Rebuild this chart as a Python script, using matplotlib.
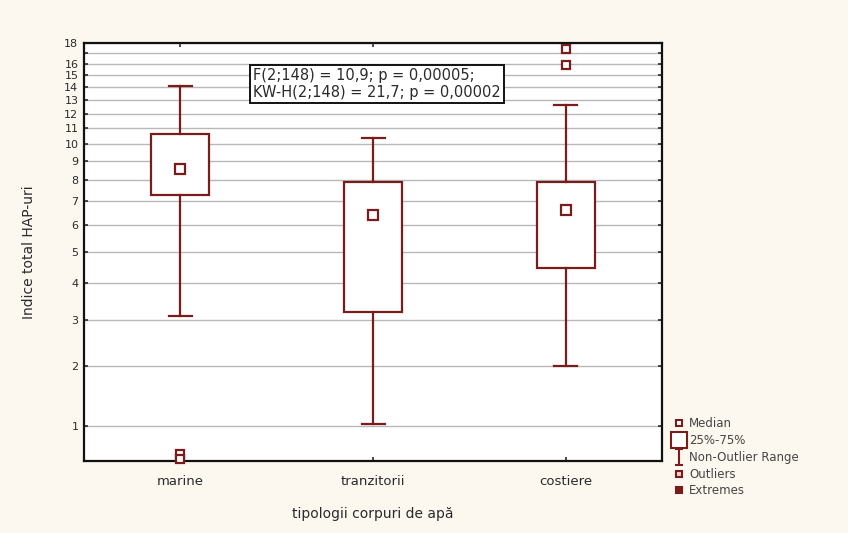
import numpy as np
import matplotlib
matplotlib.use('Agg')
import matplotlib.pyplot as plt
from matplotlib.lines import Line2D
from matplotlib.path import Path

# data
categories = ['marine', 'tranzitorii', 'costiere']
whisker_hi = [14.1, 10.4, 12.6]
q3 = [10.6, 7.9, 7.9]
median = [8.6, 6.4, 6.6]
q1 = [7.3, 3.2, 4.45]
whisker_lo = [3.1, 1.03, 2.0]
outliers = [[0.64, 0.57], [], [17.4, 15.9]]
ytick_vals = [1, 2, 3, 4, 5, 6, 7, 8, 9, 10, 11, 12, 13, 14, 15, 16, 17, 18]
ytick_labels = ['1', '2', '3', '4', '5', '6', '7', '8', '9', '10', '11', '12',
                '13', '14', '15', '16', '', '18']
stats_text = 'F(2;148) = 10,9; p = 0,00005;\nKW-H(2;148) = 21,7; p = 0,00002'

red = '#7a1c1c'
bg = '#fcf8ef'
txt = '#2a2a2a'
plt.rcParams['font.family'] = ['DejaVu Sans']

fig = plt.figure(figsize=(8.48, 5.33), dpi=100, facecolor=bg)
ax = fig.add_axes([0.099, 0.135, 0.682, 0.784])
ax.set_facecolor('white')

c = 1.75
ax.set_yscale('function', functions=(lambda v: np.log10(np.clip(v + c, 1e-6, None)),
                                     lambda v: 10 ** v - c))
ax.set_ylim(0.55, 18)
ax.set_xlim(-0.5, 2.5)

ax.set_yticks(ytick_vals)
ax.set_yticklabels(ytick_labels)
ax.yaxis.grid(True, color='#b8b8b8', linewidth=1)
ax.set_axisbelow(True)
ax.minorticks_off()

stats = []
for i in range(len(categories)):
    stats.append(dict(med=median[i], q1=q1[i], q3=q3[i], whislo=whisker_lo[i],
                      whishi=whisker_hi[i], fliers=[]))
ax.bxp(stats, positions=range(len(categories)), widths=0.3, capwidths=0.12,
       patch_artist=True, showfliers=False,
       boxprops=dict(facecolor='white', edgecolor=red, linewidth=1.6),
       whiskerprops=dict(color=red, linewidth=1.6),
       capprops=dict(color=red, linewidth=1.6),
       medianprops=dict(linewidth=0))
ax.plot(range(len(categories)), median, 's', ms=7, mfc='white', mec=red, mew=1.6,
        linestyle='none', zorder=4)
for i, vals in enumerate(outliers):
    ax.plot([i] * len(vals), vals, 's', ms=6, mfc='white', mec=red, mew=1.6,
            linestyle='none', zorder=4, clip_on=False)

ax.set_xticks(range(len(categories)))
ax.set_xticklabels(categories)
ax.tick_params(direction='in', length=3, width=1.2, top=True, right=True,
               labelsize=9.5, colors=txt, pad=10)
ax.tick_params(axis='y', labelsize=8, pad=4)
for s in ax.spines.values():
    s.set_linewidth(1.6)
    s.set_color('#111111')

ax.set_xlabel('tipologii corpuri de apă', fontsize=10, color=txt, labelpad=14)
ax.set_ylabel('Indice total HAP-uri', fontsize=10, color=txt)
ax.yaxis.set_label_coords(-0.083, 0.5)

ax.text(0.293, 0.94, stats_text, transform=ax.transAxes, fontsize=10.5,
        va='top', ha='left', linespacing=1.12, color=txt,
        bbox=dict(boxstyle='square,pad=0.22', facecolor='white',
                  edgecolor='#111111', linewidth=1.4), zorder=6)

whisk = Path([(-0.5, 1), (0.5, 1), (0, 1), (0, -1), (-0.5, -1), (0.5, -1)],
             [Path.MOVETO, Path.LINETO, Path.MOVETO, Path.LINETO, Path.MOVETO, Path.LINETO])
handles = [
    Line2D([], [], marker='s', ms=5, mfc='white', mec=red, mew=1.5, ls='none'),
    Line2D([], [], marker='s', ms=11, mfc='white', mec=red, mew=1.5, ls='none'),
    Line2D([], [], marker=whisk, ms=11, mfc='none', mec=red, mew=1.5, ls='none'),
    Line2D([], [], marker='s', ms=4, mfc='#f4d0d0', mec=red, mew=1.5, ls='none'),
    Line2D([], [], marker='s', ms=5, mfc=red, mec=red, mew=1.5, ls='none'),
]
labels = ['Median', '25%-75%', 'Non-Outlier Range', 'Outliers', 'Extremes']
leg = fig.legend(handles, labels, loc='upper left', bbox_to_anchor=(0.788, 0.228),
                 frameon=False, fontsize=8.5, handlelength=0.9, handletextpad=0.35,
                 labelspacing=0.32, borderpad=0)
for t in leg.get_texts():
    t.set_color('#444444')

fig.savefig('out.png', dpi=100, facecolor=bg)
